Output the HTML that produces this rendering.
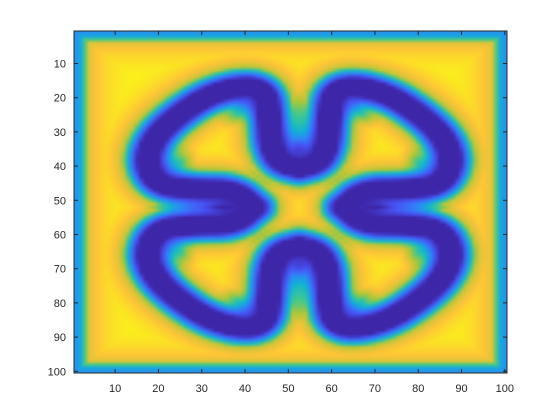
<!DOCTYPE html>
<html><head><meta charset="utf-8"><style>
html,body{margin:0;padding:0;background:#fff;}
#wrap{position:relative;width:560px;height:420px;overflow:hidden;font-family:"Liberation Sans",sans-serif;}
#img{position:absolute;left:74px;top:31px;width:433px;height:342px;image-rendering:auto;}
svg{position:absolute;left:0;top:0;}
</style></head><body>
<div id="wrap">
<canvas id="img" width="100" height="100"></canvas>
<svg id="ax" width="560" height="420"></svg>
</div>
<script>
// Centerline of the dark band, one quadrant (col,row), mirrored about center
const quadCols = [52.6,57.0,59.0,59.4,60.2,64.5,72.5,80.0,86.0,88.0,85.0,76.5,67.5,62.8];
const quadRows = [40.5,39.0,34.0,25.5,18.5,16.3,18.6,24.5,31.5,39.0,45.8,46.8,46.9,52.0];
const centerCol = 52.5, centerRow = 52.0;
const xTicks = [10,20,30,40,50,60,70,80,90,100];
const yTicks = [10,20,30,40,50,60,70,80,90,100];
const N = 100;

const L=74,T=31,W=433,H=342;
const xS = c => L + (c-0.5)/N*W;
const yS = r => T + (r-0.5)/N*H;

const par=[[0.2422,0.1504,0.6603],[0.2810,0.3228,0.9579],[0.1786,0.5289,0.9682],[0.0689,0.6948,0.8394],[0.2161,0.7843,0.5923],[0.6720,0.7793,0.2227],[0.9970,0.7659,0.2199],[0.9769,0.9839,0.0805]];
function cmap(v){v=Math.max(0,Math.min(1,v));const p=v*(par.length-1),i=Math.min(par.length-2,Math.floor(p)),f=p-i;
 return par[i].map((a,k)=>Math.round(255*(a+(par[i+1][k]-a)*f)));}

function chaikin(pts,n){for(let k=0;k<n;k++){const o=[pts[0]];for(let i=0;i<pts.length-1;i++){const a=pts[i],b=pts[i+1];o.push([0.75*a[0]+0.25*b[0],0.75*a[1]+0.25*b[1]],[0.25*a[0]+0.75*b[0],0.25*a[1]+0.75*b[1]]);}o.push(pts[pts.length-1]);pts=o;}return pts;}
function segsFor(sx,sy){const pts=quadCols.map((c,i)=>[centerCol+sx*(c-centerCol),centerRow+sy*(quadRows[i]-centerRow)]);return chaikin(pts,3);}
const polys=[segsFor(1,1),segsFor(-1,1),segsFor(1,-1),segsFor(-1,-1)];
const samples=[];const step=0.4;
polys.forEach(p=>{for(let i=0;i<p.length-1;i++){const a=p[i],b=p[i+1];const len=Math.hypot(b[0]-a[0],b[1]-a[1]);const n=Math.max(1,Math.ceil(len/step));for(let k=0;k<n;k++){const t=k/n;samples.push([a[0]+(b[0]-a[0])*t,a[1]+(b[1]-a[1])*t,len/n]);}}});
const sig=6, norm=1/(sig*Math.sqrt(Math.PI));
const ctx=document.getElementById('img').getContext('2d');
const im=ctx.createImageData(N,N);
for(let r=1;r<=N;r++)for(let c=1;c<=N;c++){
 let P=0,d2min=1e9;
 for(const s of samples){const dx=c-s[0],dy=r-s[1];const d2=dx*dx+dy*dy;if(d2<d2min)d2min=d2;if(d2<500)P+=Math.exp(-d2/(sig*sig))*s[2]*norm;}
 const d=Math.sqrt(d2min);
 let v;
 if(d<2.5)v=0;else if(d<4.1)v=(d-2.5)/1.6*0.3;else if(d<6)v=0.3+(d-4.1)/1.9*0.45;else v=0.75+0.25*(1-Math.exp(-(d-6)/4));
 const excess=Math.max(0,P-Math.exp(-d2min/(sig*sig))-0.05);
 v=v*Math.max(0,1-1.7*excess);
 const e=Math.min(c-1,r-1,N-c,N-r);
 let vb; if(e<0.5)vb=0.33;else if(e<3)vb=0.4+(e-1)/2*0.4;else vb=0.8+0.2*(1-Math.exp(-(e-3)/5));
 v=Math.min(v,vb);
 const col=cmap(v),o=((r-1)*N+(c-1))*4;im.data[o]=col[0];im.data[o+1]=col[1];im.data[o+2]=col[2];im.data[o+3]=255;}
ctx.putImageData(im,0,0);

const svg=document.getElementById('ax');const NS='http://www.w3.org/2000/svg';
function mk(t,a,p){const e=document.createElementNS(NS,t);for(const k in a)e.setAttribute(k,a[k]);(p||svg).appendChild(e);return e;}
const box=mk('rect',{x:L,y:T,width:W,height:H,fill:'none',stroke:'#262626','stroke-width':1});


xTicks.forEach(t=>{const x=xS(t);
 mk('line',{x1:x,x2:x,y1:T+H,y2:T+H-4,stroke:'#262626'});mk('line',{x1:x,x2:x,y1:T,y2:T+4,stroke:'#262626'});
 const tx=mk('text',{x:x,y:392,'text-anchor':'middle','font-size':'11',fill:'#262626'});tx.textContent=t;
 
 });
yTicks.forEach(t=>{const y=yS(t);
 mk('line',{x1:L,x2:L+4,y1:y,y2:y,stroke:'#262626'});mk('line',{x1:L+W,x2:L+W-4,y1:y,y2:y,stroke:'#262626'});
 const tx=mk('text',{x:66,y:y+4,'text-anchor':'end','font-size':'11',fill:'#262626'});tx.textContent=t;
 
 });
</script>
</body></html>
